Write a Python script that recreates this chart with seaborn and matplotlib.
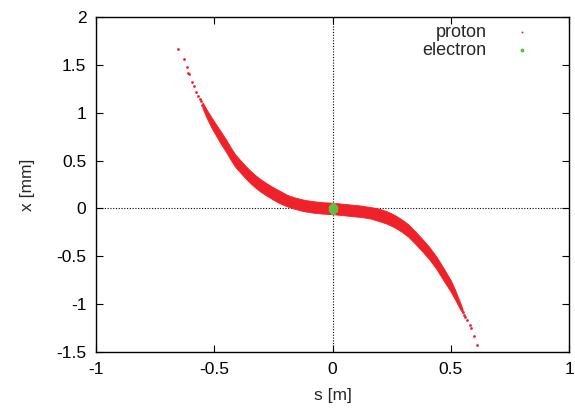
import pandas as pd
import matplotlib
matplotlib.use("Agg")
import matplotlib.pyplot as plt
import seaborn as sns

# proton bunch: dense band (upper / lower edge of x read along s)
band_s = [-0.55, -0.53, -0.51, -0.49, -0.47, -0.45, -0.43, -0.41, -0.39, -0.37,
          -0.35, -0.33, -0.31, -0.28, -0.25, -0.22, -0.19, -0.16, -0.12, -0.08,
          -0.04, 0.00, 0.04, 0.08, 0.12, 0.16, 0.20, 0.23, 0.26, 0.29,
          0.32, 0.35, 0.38, 0.41, 0.44, 0.47, 0.50, 0.52, 0.54, 0.55]
band_upper = [1.11, 1.025, 0.945, 0.87, 0.795, 0.72, 0.635, 0.56, 0.505, 0.45,
              0.40, 0.355, 0.315, 0.265, 0.22, 0.18, 0.14, 0.115, 0.09, 0.075,
              0.065, 0.06, 0.05, 0.04, 0.03, 0.015, -0.005, -0.03, -0.065, -0.11,
              -0.165, -0.24, -0.32, -0.405, -0.505, -0.625, -0.75, -0.86, -0.985, -1.05]
band_lower = [1.05, 0.935, 0.835, 0.75, 0.665, 0.59, 0.505, 0.43, 0.375, 0.32,
              0.27, 0.225, 0.185, 0.135, 0.09, 0.05, 0.02, -0.005, -0.03, -0.045,
              -0.055, -0.06, -0.07, -0.08, -0.09, -0.105, -0.135, -0.16, -0.195, -0.24,
              -0.295, -0.37, -0.45, -0.535, -0.635, -0.755, -0.87, -0.96, -1.055, -1.09]

# proton bunch: sparse particles in the head and tail
tail_s = [-0.654, -0.630, -0.616, -0.609, -0.605, -0.595, -0.584, -0.577, -0.567, -0.560,
          -0.556, -0.553, 0.551, 0.555, 0.560, 0.570, 0.580, 0.586, 0.599, 0.613]
tail_x = [1.67, 1.56, 1.48, 1.42, 1.40, 1.32, 1.28, 1.22, 1.17, 1.14,
          1.12, 1.08, -1.08, -1.11, -1.13, -1.17, -1.22, -1.25, -1.33, -1.43]

# electron bunch, small cluster at the origin
electron_s = [-0.006, -0.006, -0.006, 0.002, 0.002, 0.002, 0.002, 0.002, 0.010, 0.010, 0.010]
electron_x = [-0.02, 0.0, 0.02, -0.035, -0.015, 0.0, 0.015, 0.035, -0.02, 0.0, 0.02]

x_ticks = [-1, -0.5, 0, 0.5, 1]
x_ticklabels = ["-1", "-0.5", "0", "0.5", "1"]
y_ticks = [-1.5, -1, -0.5, 0, 0.5, 1, 1.5, 2]
y_ticklabels = ["-1.5", "-1", "-0.5", "0", "0.5", "1", "1.5", "2"]

RED = "#ee2228"
GREEN = "#66bb44"

sns.set_style("ticks")
plt.rcParams["font.family"] = ["Liberation Sans", "DejaVu Sans"]

fig = plt.figure(figsize=(5.75, 4.12), dpi=100)
ax = fig.add_axes([96 / 575, 1 - 352 / 412, (569 - 96) / 575, (352 - 17) / 412])

# zero axes (dotted)
ax.axhline(0, color="black", linestyle=(0, (1, 1.5)), linewidth=0.8, zorder=1)
ax.axvline(0, color="black", linestyle=(0, (1, 1.5)), linewidth=0.8, zorder=1)

ax.fill_between(band_s, band_lower, band_upper, color=RED, linewidth=0.6,
                edgecolor=RED, zorder=2)
tail_df = pd.DataFrame({"s": tail_s, "x": tail_x})
sns.scatterplot(data=tail_df, x="s", y="x", ax=ax, color=RED, s=4,
                linewidth=0, marker="o", label="proton", zorder=3)
elec_df = pd.DataFrame({"s": electron_s, "x": electron_x})
sns.scatterplot(data=elec_df, x="s", y="x", ax=ax, color=GREEN, s=16,
                linewidth=0, marker="o", label="electron", zorder=4)

ax.set_xlim(-1, 1)
ax.set_ylim(-1.5, 2)
ax.set_xticks(x_ticks)
ax.set_xticklabels(x_ticklabels)
ax.set_yticks(y_ticks)
ax.set_yticklabels(y_ticklabels)
ax.tick_params(direction="in", length=5, width=0.8, top=True, right=True,
               labelsize=12.5, colors="black", pad=7)
for sp in ax.spines.values():
    sp.set_linewidth(1.0)
    sp.set_color("black")

ax.set_xlabel("s [m]", fontsize=12.5, labelpad=8)
ax.set_ylabel("x [mm]", fontsize=12.5, labelpad=15)

leg = ax.legend(loc="upper right", bbox_to_anchor=(0.955, 1.0), borderaxespad=0,
                frameon=False, markerfirst=False, fontsize=13, labelspacing=0.05,
                handletextpad=1.0, markerscale=0.7)

fig.savefig("out.png", dpi=100)
